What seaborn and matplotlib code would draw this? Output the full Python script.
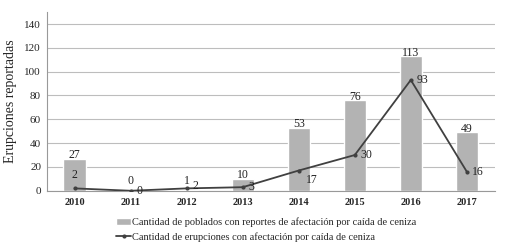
import numpy as np
import pandas as pd
import matplotlib
matplotlib.use('Agg')
import matplotlib.pyplot as plt
import seaborn as sns

years = ['2010', '2011', '2012', '2013', '2014', '2015', '2016', '2017']
poblados = [27, 0, 1, 10, 53, 76, 113, 49]
erupciones = [2, 0, 2, 3, 17, 30, 93, 16]
label_bar = 'Cantidad de poblados con reportes de afectación por caída de ceniza'
label_line = 'Cantidad de erupciones con afectación por caída de ceniza'

sns.set_style('white')
plt.rcParams['font.family'] = ['Liberation Serif', 'DejaVu Serif']

fig, ax = plt.subplots(figsize=(5.07, 2.52), dpi=100)
fig.subplots_adjust(left=0.092, right=0.976, top=0.952, bottom=0.243)

df = pd.DataFrame({'year': years, 'poblados': poblados, 'erupciones': erupciones})
x = np.arange(len(years))

sns.barplot(data=df, x='year', y='poblados', color='#b3b3b3', saturation=1,
            width=0.4, ax=ax, label=label_bar, zorder=2)
sns.lineplot(x=x, y=erupciones, color='#404040', marker='o', markersize=3,
             markeredgewidth=0, linewidth=1.3, ax=ax, label=label_line, zorder=3)

# etiquetas
for i, v in enumerate(poblados):
    ax.text(i, max(v + 3, 8), str(v), ha='center', va='center', fontsize=8.5, color='#222222')
for i, v in enumerate(erupciones):
    if i == 0:
        ax.text(i, v + 11, str(v), ha='center', va='center', fontsize=8.5, color='#222222')
    elif i == 4:
        ax.text(i + 0.12, v - 8, str(v), ha='left', va='center', fontsize=8.5, color='#222222')
    elif i == 2:
        ax.text(i + 0.1, v + 2, str(v), ha='left', va='center', fontsize=8.5, color='#222222')
    else:
        ax.text(i + 0.1, v, str(v), ha='left', va='center', fontsize=8.5, color='#222222')

ax.set_ylim(0, 150)
ax.set_xlim(-0.5, len(years) - 0.5)
ax.set_yticks(range(0, 141, 20))
ax.yaxis.grid(True, color='#bdbdbd', linewidth=0.8, zorder=0)
ax.set_axisbelow(True)
ax.set_xlabel('')
ax.set_ylabel('Erupciones reportadas', fontsize=10, labelpad=5)
ax.tick_params(axis='y', labelsize=8, length=0, pad=4)
ax.tick_params(axis='x', labelsize=7.5, length=0, pad=5)
for t in ax.get_xticklabels():
    t.set_fontweight('bold')
for s in ['top', 'right']:
    ax.spines[s].set_visible(False)
ax.spines['left'].set_color('#999999')
ax.spines['bottom'].set_color('#999999')

handles, labels = ax.get_legend_handles_labels()
order = [labels.index(label_bar), labels.index(label_line)]
ax.legend([handles[k] for k in order], [labels[k] for k in order],
          loc='upper center', bbox_to_anchor=(0.49, -0.12), frameon=False,
          fontsize=7.5, handlelength=1.4, handletextpad=0.1, labelspacing=0.45,
          borderpad=0)

fig.savefig('out.png', dpi=100)
